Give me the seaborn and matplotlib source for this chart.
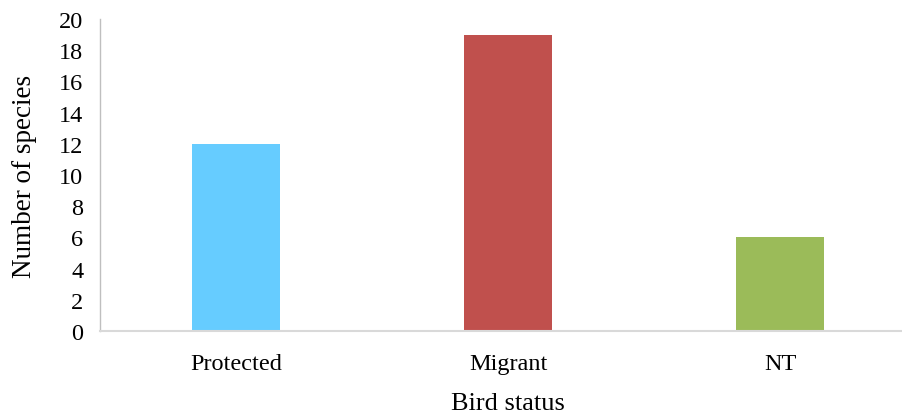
import matplotlib
matplotlib.use("Agg")
import matplotlib.pyplot as plt
import seaborn as sns
import pandas as pd

categories = ["Protected", "Migrant", "NT"]
counts = [12, 19, 6]
colors = ["#66CCFF", "#C0504D", "#9BBB59"]
y_ticks = [0, 2, 4, 6, 8, 10, 12, 14, 16, 18, 20]

sns.set_style("white")
plt.rcParams["font.family"] = ["Liberation Serif", "DejaVu Serif"]

df = pd.DataFrame({"status": categories, "count": counts})

fig = plt.figure(figsize=(9.03, 4.14), dpi=100)
W, H = 903, 414
ax = fig.add_axes([100 / W, (H - 332) / H, 816 / W, 312 / H])

sns.barplot(data=df, x="status", y="count", hue="status", palette=colors,
            width=0.32, legend=False, ax=ax, saturation=1, linewidth=0)

ax.set_xlim(-0.5, 2.5)
ax.set_ylim(0, 20)
ax.set_yticks(y_ticks)
ax.tick_params(axis="both", length=0, labelsize=17.5, labelcolor="black")
ax.tick_params(axis="x", pad=16)
ax.tick_params(axis="y", pad=12)

ax.set_xlabel("Bird status", fontsize=19, labelpad=13, color="black")
ax.set_ylabel("Number of species", fontsize=19.5, labelpad=16, color="black")

for side in ["top", "right"]:
    ax.spines[side].set_visible(False)
ax.spines["left"].set_color("#BFBFBF")
ax.spines["left"].set_linewidth(1.0)
ax.spines["bottom"].set_color("#D9D9D9")
ax.spines["bottom"].set_linewidth(1.5)

fig.savefig("out.png", dpi=100)
